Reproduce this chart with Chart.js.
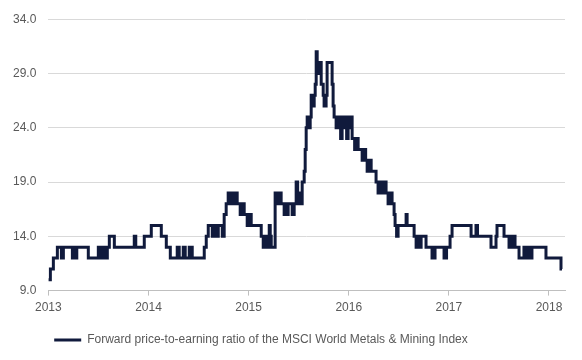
<!DOCTYPE html>
<html>
<head>
<meta charset="utf-8">
<script src="https://cdn.jsdelivr.net/npm/chart.js@4/dist/chart.umd.min.js"></script>
<style>
  html, body { margin: 0; padding: 0; background: #ffffff; }
  #wrap { width: 582px; height: 360px; position: relative; }
</style>
</head>
<body>
<div id="wrap"><canvas id="c"></canvas></div>
<script>
// Dates as decimal years (points where the value changes)
const dates = [
  2013.000, 2013.020, 2013.050, 2013.090, 2013.130, 2013.150, 2013.240, 2013.254, 2013.269, 2013.284,
  2013.399, 2013.499, 2013.509, 2013.529, 2013.544, 2013.559, 2013.574, 2013.589, 2013.609, 2013.659,
  2013.858, 2013.873, 2013.958, 2014.028, 2014.128, 2014.178, 2014.218, 2014.287, 2014.307, 2014.347,
  2014.367, 2014.407, 2014.437, 2014.557, 2014.577, 2014.597, 2014.637, 2014.652, 2014.677, 2014.697,
  2014.737, 2014.756, 2014.776, 2014.796, 2014.821, 2014.836, 2014.851, 2014.866, 2014.886, 2014.916,
  2014.936, 2014.956, 2014.986, 2015.006, 2015.026, 2015.126, 2015.146, 2015.166, 2015.181, 2015.206,
  2015.216, 2015.226, 2015.265, 2015.295, 2015.305, 2015.325, 2015.355, 2015.370, 2015.385, 2015.395,
  2015.435, 2015.455, 2015.475, 2015.490, 2015.505, 2015.535, 2015.555, 2015.565, 2015.575, 2015.585,
  2015.600, 2015.615, 2015.625, 2015.640, 2015.655, 2015.665, 2015.675, 2015.685, 2015.700, 2015.715,
  2015.725, 2015.745, 2015.754, 2015.774, 2015.784, 2015.834, 2015.844, 2015.854, 2015.874, 2015.904,
  2015.919, 2015.934, 2015.949, 2015.964, 2015.979, 2015.994, 2016.009, 2016.024, 2016.034, 2016.059,
  2016.074, 2016.094, 2016.134, 2016.154, 2016.169, 2016.184, 2016.204, 2016.224, 2016.273, 2016.293,
  2016.313, 2016.333, 2016.353, 2016.373, 2016.393, 2016.413, 2016.433, 2016.453, 2016.463, 2016.478,
  2016.493, 2016.573, 2016.583, 2016.653, 2016.673, 2016.693, 2016.713, 2016.723, 2016.772, 2016.832,
  2016.862, 2016.952, 2016.977, 2017.012, 2017.032, 2017.222, 2017.271, 2017.286, 2017.421, 2017.471,
  2017.481, 2017.551, 2017.601, 2017.616, 2017.631, 2017.646, 2017.661, 2017.701, 2017.750, 2017.770,
  2017.790, 2017.810, 2017.830, 2017.970, 2018.120, 2018.130
];
// Forward P/E values
const values = [
  10, 11, 12, 13, 12, 13, 12, 13, 12, 13,
  12, 13, 12, 13, 12, 13, 12, 13, 14, 13,
  14, 13, 14, 15, 14, 13, 12, 13, 12, 13,
  12, 13, 12, 13, 14, 15, 14, 15, 14, 15,
  14, 16, 17, 18, 17, 18, 17, 18, 17, 16,
  17, 16, 15, 16, 15, 14, 13, 14, 13, 15,
  14, 13, 18, 17, 18, 17, 16, 17, 16, 17,
  16, 17, 19, 18, 17, 19, 20, 22, 24, 25,
  24, 25, 27, 26, 27, 28, 31, 30, 29, 30,
  28, 27, 26, 27, 30, 28, 26, 25, 24, 25,
  23, 25, 24, 25, 23, 25, 24, 25, 23, 22,
  23, 22, 21, 22, 21, 20, 21, 20, 19, 18,
  19, 18, 19, 18, 17, 18, 17, 16, 15, 14,
  15, 16, 15, 14, 13, 14, 13, 14, 13, 12,
  13, 12, 13, 14, 15, 14, 15, 14, 13, 14,
  15, 14, 13, 14, 13, 14, 13, 12, 13, 12,
  13, 12, 13, 12, 11, 11
];
const yearTicks = [2013, 2014, 2015, 2016, 2017, 2018];
const yTicks = [9, 14, 19, 24, 29, 34];
const seriesLabel = 'Forward price-to-earning ratio of the MSCI World Metals & Mining Index';

const points = dates.map((d, i) => ({ x: d, y: values[i] }));
const textColor = '#595959';
const fontFamily = 'Liberation Sans, Arial, sans-serif';

const shiftLegend = {
  id: 'shiftLegend',
  afterLayout(chart) {
    if (chart.legend) { chart.legend.left -= 22; chart.legend.right -= 22; }
  }
};

new Chart(document.getElementById('c'), {
  type: 'line',
  data: {
    datasets: [{
      label: seriesLabel,
      data: points,
      stepped: 'before',
      borderColor: '#101a3c',
      backgroundColor: '#101a3c',
      borderWidth: 3,
      pointRadius: 0,
      fill: false
    }]
  },
  plugins: [shiftLegend],
  options: {
    responsive: true,
    maintainAspectRatio: false,
    animation: false,
    layout: { padding: { top: 10, right: 17, left: 1, bottom: 4 } },
    plugins: {
      tooltip: { enabled: false },
      legend: {
        position: 'bottom',
        labels: {
          color: textColor,
          font: { family: fontFamily, size: 12 },
          boxWidth: 27,
          boxHeight: 3,
          padding: 14,
          generateLabels: (chart) => Chart.defaults.plugins.legend.labels.generateLabels(chart)
            .map(l => Object.assign(l, { lineWidth: 0 }))
        }
      }
    },
    scales: {
      x: {
        type: 'linear',
        min: 2013,
        max: 2018.16,
        afterBuildTicks: (axis) => { axis.ticks = yearTicks.map(v => ({ value: v })); },
        ticks: {
          color: textColor,
          font: { family: fontFamily, size: 12 },
          padding: 5,
          maxRotation: 0,
          callback: (v) => String(v)
        },
        grid: { drawOnChartArea: false, drawTicks: true, tickLength: 5, color: '#bfbfbf' },
        border: { display: true, color: '#bfbfbf' }
      },
      y: {
        min: 9,
        max: 34,
        afterBuildTicks: (axis) => { axis.ticks = yTicks.map(v => ({ value: v })); },
        ticks: {
          color: textColor,
          font: { family: fontFamily, size: 12 },
          padding: 12,
          callback: (v) => Number(v).toFixed(1)
        },
        grid: { color: '#d9d9d9', drawTicks: false },
        border: { display: false }
      }
    }
  }
});
</script>
</body>
</html>
